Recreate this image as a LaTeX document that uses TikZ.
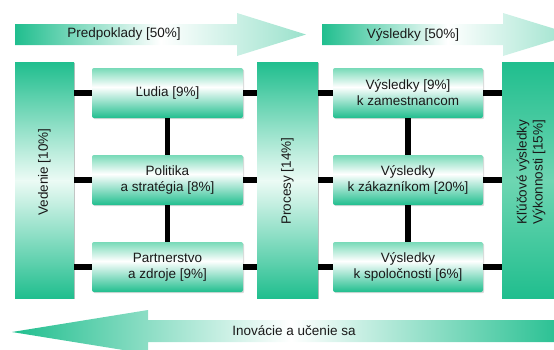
\documentclass[tikz,border=0pt]{standalone}
\usepackage{fontspec}
\setmainfont{Liberation Sans}
\usepackage{graphicx}
\usetikzlibrary{shadows}
\definecolor{eg}{RGB}{32,190,142}
\definecolor{egl}{RGB}{120,218,184}
\definecolor{egm}{RGB}{236,251,245}
\definecolor{egk}{RGB}{110,214,178}
\definecolor{txt}{RGB}{25,25,25}
\colorlet{ca0}{eg}\colorlet{ca1}{egm!25!eg}\colorlet{ca2}{egm!50!eg}\colorlet{ca3}{egm!75!eg}\colorlet{ca4}{egm}
\colorlet{cb0}{eg}\colorlet{cb1}{egk!25!eg}\colorlet{cb2}{egk!50!eg}\colorlet{cb3}{egk!75!eg}\colorlet{cb4}{egk}
\pgfdeclareverticalshading{boxsh}{100bp}{color(0bp)=(eg); color(25bp)=(eg); color(56bp)=(white); color(75bp)=(egl); color(100bp)=(egl)}
\newcommand\colgrad[3]{% x1, x2, colour set (ca or cb); column from y=62 to y=298
  \fill[black, opacity=0.25] (#1+1.2,63.2) rectangle (#2+1.2,299.2);
  \shade[top color=#30, bottom color=#31] (#1,62) rectangle (#2,92);
  \shade[top color=#31, bottom color=#32] (#1,91.5) rectangle (#2,121.5);
  \shade[top color=#32, bottom color=#33] (#1,121) rectangle (#2,151);
  \shade[top color=#33, bottom color=#34] (#1,150.5) rectangle (#2,180.5);
  \shade[top color=#34, bottom color=#33] (#1,180) rectangle (#2,210);
  \shade[top color=#33, bottom color=#32] (#1,209.5) rectangle (#2,239.5);
  \shade[top color=#32, bottom color=#31] (#1,239) rectangle (#2,269);
  \shade[top color=#31, bottom color=#30] (#1,268.5) rectangle (#2,298);
}
\begin{document}
\begin{tikzpicture}[x=1pt,y=-1pt,
  every node/.style={font=\fontsize{13.5}{16}\selectfont, text=txt},
  box/.style={rectangle, rounded corners=2pt, minimum width=151pt, minimum height=50pt, shading=boxsh, align=center, inner sep=0pt, drop shadow={opacity=0.3, shadow xshift=1.2pt, shadow yshift=-1.2pt}},
  colframe/.style={rectangle, minimum height=236pt, inner sep=0pt},
  link/.style={line width=5.5pt, black},
  arrR/.style={left color=eg, right color=eg!45, middle color=white},
  arrL/.style={left color=eg, right color=eg, middle color=white}
]
\useasboundingbox (0,0) rectangle (554,349);
\begin{scope}
\clip (0,0) rectangle (554,349);
% arrows
\path[arrR] (15,24) -- (237,24) -- (237,13) -- (306,34.5) -- (237,56) -- (237,45) -- (15,45) -- cycle;
\node (pred) at (124,34.5) {Predpoklady [50\%]};
\path[arrR] (322,24) -- (503,24) -- (503,13) -- (573,34.5) -- (503,56) -- (503,45) -- (322,45) -- cycle;
\node (vysl) at (413,34.5) {Výsledky [50\%]};
\path[arrL] (570,320) -- (148,320) -- (148,310) -- (12,332) -- (148,354) -- (148,342) -- (570,342) -- cycle;
\node (inov) at (294,331) {Inovácie a učenie sa};
% columns
\colgrad{15}{74}{ca}
\colgrad{257}{318}{ca}
\colgrad{502}{562}{cb}
\node[colframe, minimum width=59pt] (ved) at (44.5,180) {};
\node[colframe, minimum width=61pt] (pro) at (287.5,180) {};
\node[colframe, minimum width=60pt] (kv) at (532,180) {};
\node[rotate=90] (vedt) at (44.5,172) {Vedenie [10\%]};
\node[rotate=90] (prot) at (287.5,181) {Procesy [14\%]};
\node[rotate=90, align=center] (kvt) at (531,172) {Kľúčové výsledky\\Výkonnosti [15\%]};
% boxes
\node[box] (lud) at (167.5,93) {Ľudia [9\%]};
\node[box] (pol) at (167.5,180) {Politika\\a stratégia [8\%]};
\node[box] (par) at (167.5,267) {Partnerstvo\\a zdroje [9\%]};
\node[box, minimum width=150pt] (vz) at (408,93) {Výsledky [9\%]\\k zamestnancom};
\node[box, minimum width=150pt] (vk) at (408,180) {Výsledky\\k zákazníkom [20\%]};
\node[box, minimum width=150pt] (vs) at (408,267) {Výsledky\\k spoločnosti [6\%]};
% connectors
\foreach \b in {lud,pol,par}{
  \draw[link] (ved.east |- \b.west) -- (\b.west);
  \draw[link] (\b.east) -- (pro.west |- \b.east);
}
\foreach \b in {vz,vk,vs}{
  \draw[link] (pro.east |- \b.west) -- (\b.west);
  \draw[link] (\b.east) -- (kv.west |- \b.east);
}
\draw[link] (lud.south) -- (pol.north);
\draw[link] (pol.south) -- (par.north);
\draw[link] (vz.south) -- (vk.north);
\draw[link] (vk.south) -- (vs.north);
\end{scope}
\end{tikzpicture}
\end{document}
